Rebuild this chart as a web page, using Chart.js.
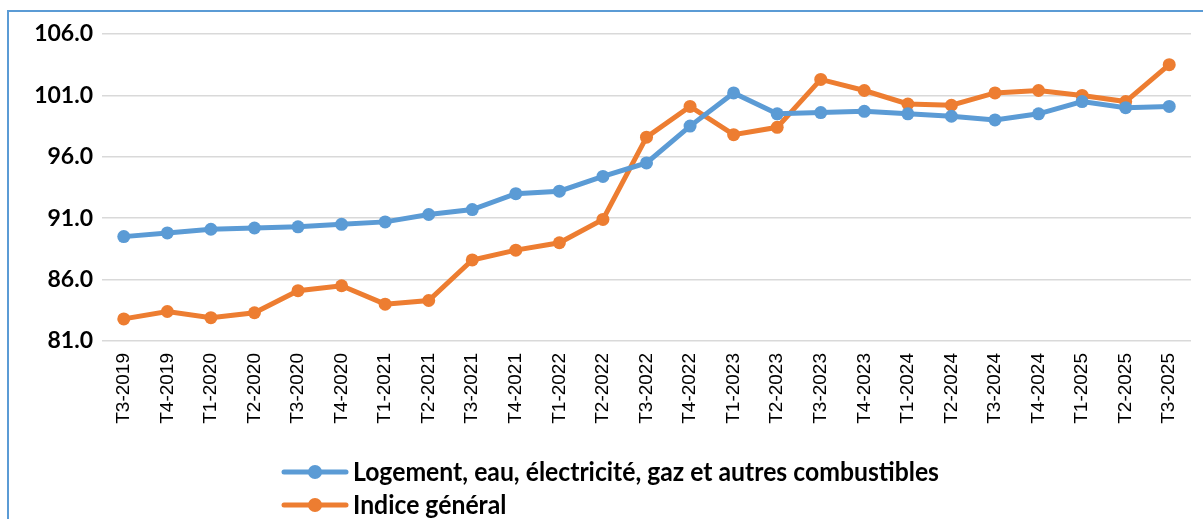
<!DOCTYPE html>
<html>
<head>
<meta charset="utf-8">
<script src="https://cdn.jsdelivr.net/npm/chart.js@4/dist/chart.umd.min.js"></script>
<style>
  html, body { margin: 0; padding: 0; background: #fff; overflow: hidden; }
  #cadre { position: absolute; left: 7px; top: 10px; width: 1300px; height: 600px; border: 2px solid #5b9bd5; }
  #wrap { position: absolute; left: 0; top: 0; width: 1203px; height: 519px; }
</style>
</head>
<body>
<div id="cadre"></div>
<div id="wrap"><canvas id="chartIndices"></canvas></div>
<script>
// trimestres
const trimestres = ['T3-2019', 'T4-2019', 'T1-2020', 'T2-2020', 'T3-2020', 'T4-2020', 'T1-2021', 'T2-2021',
  'T3-2021', 'T4-2021', 'T1-2022', 'T2-2022', 'T3-2022', 'T4-2022', 'T1-2023', 'T2-2023', 'T3-2023',
  'T4-2023', 'T1-2024', 'T2-2024', 'T3-2024', 'T4-2024', 'T1-2025', 'T2-2025', 'T3-2025'];

// Logement, eau, électricité, gaz et autres combustibles
const logement = [89.5, 89.8, 90.1, 90.2, 90.3, 90.5, 90.7, 91.3, 91.7, 93.0, 93.2, 94.4, 95.5, 98.5,
  101.2, 99.5, 99.6, 99.7, 99.5, 99.3, 99.0, 99.5, 100.5, 100.0, 100.1];

// Indice général
const indiceGeneral = [82.8, 83.4, 82.9, 83.3, 85.1, 85.5, 84.0, 84.3, 87.6, 88.4, 89.0, 90.9, 97.6, 100.1,
  97.8, 98.4, 102.3, 101.4, 100.3, 100.2, 101.2, 101.4, 101.0, 100.5, 103.5];

const yMin = 81, yMax = 106, yPas = 5;

// légende dessinée à la main (empilée, alignée à gauche, texte un peu condensé)
const legendeEmpilee = {
  id: 'legendeEmpilee',
  afterDraw(chart) {
    const ctx = chart.ctx;
    const x0 = 282, lignes = [472, 505];
    ctx.save();
    ctx.font = 'bold 26px Lato';
    const largeur = ctx.measureText(chart.data.datasets[0].label).width;
    const sx = 586 / largeur;
    chart.data.datasets.forEach((ds, i) => {
      const y = lignes[i];
      ctx.strokeStyle = ds.borderColor;
      ctx.lineWidth = 5;
      ctx.lineCap = 'round';
      ctx.beginPath();
      ctx.moveTo(x0 + 2, y);
      ctx.lineTo(x0 + 64, y);
      ctx.stroke();
      ctx.fillStyle = ds.borderColor;
      ctx.beginPath();
      ctx.arc(x0 + 33, y, 7, 0, Math.PI * 2);
      ctx.fill();
      ctx.save();
      ctx.translate(x0 + 71, y);
      ctx.scale(sx, 1);
      ctx.fillStyle = '#000';
      ctx.textBaseline = 'middle';
      ctx.fillText(ds.label, 0, 1);
      ctx.restore();
    });
    ctx.restore();
  }
};

const ctx = document.getElementById('chartIndices').getContext('2d');
new Chart(ctx, {
  type: 'line',
  data: {
    labels: trimestres,
    datasets: [
      {
        label: 'Logement, eau, électricité, gaz et autres combustibles',
        data: logement,
        borderColor: '#5b9bd5',
        backgroundColor: '#5b9bd5',
        borderWidth: 5,
        pointRadius: 6.5,
        pointBorderWidth: 0,
        tension: 0
      },
      {
        label: 'Indice général',
        data: indiceGeneral,
        borderColor: '#ed7d31',
        backgroundColor: '#ed7d31',
        borderWidth: 5,
        pointRadius: 6.5,
        pointBorderWidth: 0,
        tension: 0
      }
    ]
  },
  options: {
    responsive: true,
    maintainAspectRatio: false,
    animation: false,
    layout: { padding: { top: 34, right: 12, bottom: 93, left: 0 } },
    plugins: {
      legend: { display: false },
      tooltip: { enabled: false }
    },
    scales: {
      x: {
        offset: true,
        grid: { display: false },
        border: { display: false },
        ticks: {
          color: '#000',
          font: { family: 'Liberation Sans', size: 19 },
          minRotation: 90,
          maxRotation: 90,
          autoSkip: false,
          padding: 4
        },
        afterFit(scale) { scale.height = 85; }
      },
      y: {
        min: yMin,
        max: yMax,
        grid: { color: '#d9d9d9', lineWidth: 1.5, drawTicks: false },
        border: { display: false },
        ticks: {
          stepSize: yPas,
          color: '#000',
          padding: 9,
          font: { family: 'Lato', size: 23, weight: 'bold' },
          callback: v => v.toFixed(1)
        },
        afterFit(scale) { scale.width = 102; }
      }
    }
  },
  plugins: [legendeEmpilee]
});
</script>
</body>
</html>
